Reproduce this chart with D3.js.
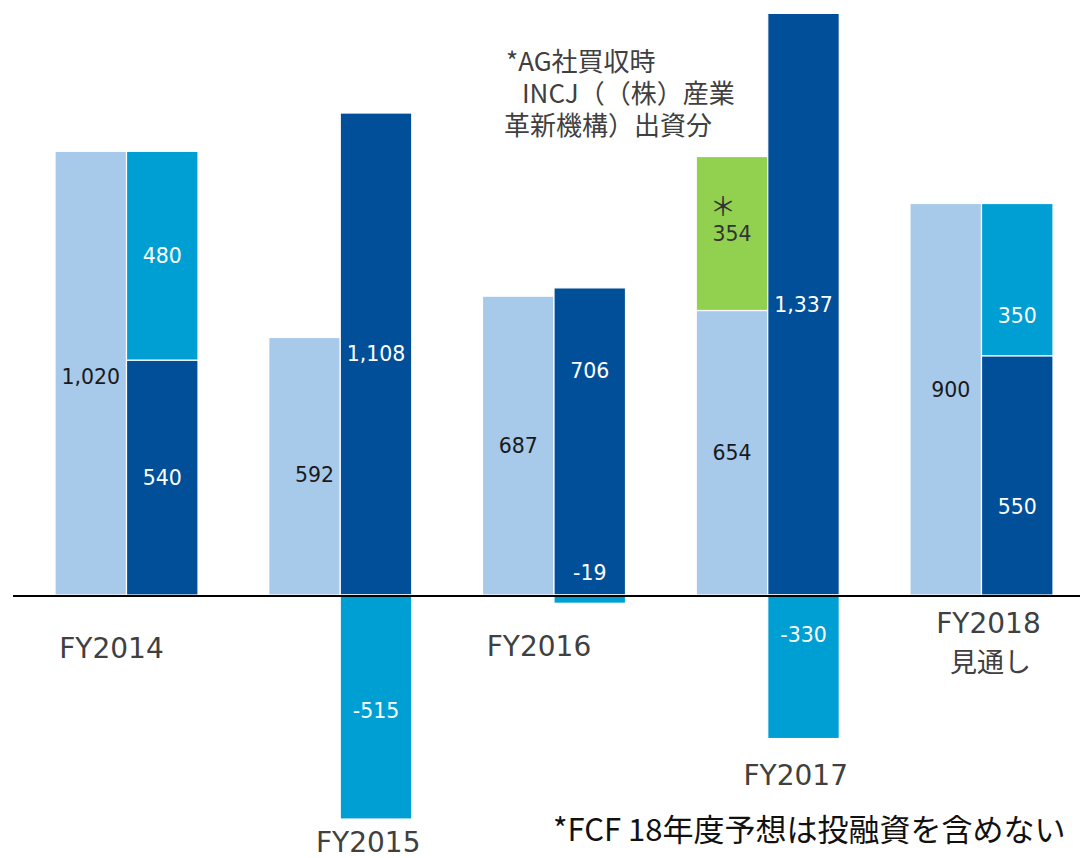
<!DOCTYPE html>
<html>
<head>
<meta charset="utf-8">
<script src="https://cdn.jsdelivr.net/npm/d3@7"></script>
<style>
  body { margin: 0; background: #fff; }
  svg { display: block; }
  .val { font-family: "DejaVu Sans", Verdana, sans-serif; font-size: 20.5px; }
  .cat { font-family: "DejaVu Sans", Verdana, sans-serif; font-size: 28px; fill: #404040; }
  .jp { font-family: "Noto Sans CJK JP", sans-serif; }
</style>
</head>
<body>
<svg width="1080" height="858"></svg>
<script>
var categories = ["FY2014", "FY2015", "FY2016", "FY2017", "FY2018"];
var opCF     = [1020, 592, 687, 654, 900];   // light bars
var incj     = [0, 0, 0, 354, 0];            // green, stacked on light
var fcf      = [540, 1108, 706, 1337, 550];  // dark bars
var invest   = [480, -515, -19, -330, 350];  // mid blue, on dark / below zero

var colors = { light: "#a7c9ea", green: "#92d050", dark: "#004f98", mid: "#009fd3" };

// small nudges for the value labels that are not in the segment middle
var labelNudge = {
  "light-1": { dy: 8, dx: 10 },
  "light-4": { dy: -10, dx: 5 },
  "dark-2": { dy: -71 },
  "mid-2": { dy: -27 },
  "mid-1": { dy: 4 },
  "mid-3": { dy: -32 },
  "dark-4": { dy: 31 },
  "mid-4": { dy: 36 },
  "light-0": { dy: 3 }
};

var svg = d3.select("svg");

var x = d3.scaleBand()
    .domain(categories)
    .range([55, 55 + 5 * 213.75]);

var inner = d3.scaleBand()
    .domain(["a", "b"])
    .range([0, 143]);

var y = d3.scaleLinear()
    .domain([0, 1337])
    .range([595, 595 - 1337 * 0.435]);

// build segments
var segs = [];
categories.forEach(function(c, i) {
    segs.push({key: "light-" + i, cat: c, col: "a", y0: 0, y1: opCF[i], v: opCF[i], fill: colors.light, txt: "#1a1a1a"});
    if (incj[i]) segs.push({key: "green-" + i, cat: c, col: "a", y0: opCF[i], y1: opCF[i] + incj[i], v: incj[i], fill: colors.green, txt: "#333", star: true});
    segs.push({key: "dark-" + i, cat: c, col: "b", y0: 0, y1: fcf[i], v: fcf[i], fill: colors.dark, txt: "#fff"});
    if (invest[i] >= 0) segs.push({key: "mid-" + i, cat: c, col: "b", y0: fcf[i], y1: fcf[i] + invest[i], v: invest[i], fill: colors.mid, txt: "#fff"});
    else segs.push({key: "mid-" + i, cat: c, col: "b", y0: invest[i], y1: 0, v: invest[i], fill: colors.mid, txt: "#fff"});
});

var g = svg.append("g");

g.selectAll("rect")
    .data(segs)
    .enter().append("rect")
    .attr("x", function(d) { return x(d.cat) + inner(d.col); })
    .attr("width", inner.bandwidth())
    .attr("y", function(d) { return y(d.y1); })
    .attr("height", function(d) { return y(d.y0) - y(d.y1); })
    .style("fill", function(d) { return d.fill; })
    .style("stroke", "#fff")
    .style("stroke-width", 1.2);

// zero line
svg.append("line")
    .attr("x1", 13).attr("x2", 1080)
    .attr("y1", y(0) + 1).attr("y2", y(0) + 1)
    .style("stroke", "#000")
    .style("stroke-width", 2);

// value labels (plain hyphen for negatives, like the slide)
var fmt = function(v) { return d3.format(",")(v).replace("\u2212", "-"); };
g.selectAll("text.val")
    .data(segs)
    .enter().append("text")
    .attr("class", "val")
    .attr("text-anchor", "middle")
    .attr("x", function(d) {
        var n = labelNudge[d.key] || {};
        return x(d.cat) + inner(d.col) + inner.bandwidth() / 2 + (n.dx || 0);
    })
    .attr("y", function(d) {
        var n = labelNudge[d.key] || {};
        return (y(d.y0) + y(d.y1)) / 2 + (n.dy || 0);
    })
    .attr("dy", "0.36em")
    .style("fill", function(d) { return d.txt; })
    .text(function(d) { return fmt(d.v); });

// asterisk over the INCJ segment
segs.filter(function(d) { return d.star; }).forEach(function(d) {
    g.append("text")
        .attr("class", "jp")
        .attr("text-anchor", "middle")
        .attr("x", x(d.cat) + inner(d.col) + inner.bandwidth() / 2 - 9)
        .attr("y", (y(d.y0) + y(d.y1)) / 2 - 18)
        .style("font-size", "26px")
        .style("fill", "#333")
        .text("＊");
});

// category labels (placed around each group, as in the original slide)
var catPos = [
    {dx: -15, dy: 63},
    {dx: 28, dy: 257},
    {dx: -15, dy: 61},
    {dx: 28, dy: 190},
    {dx: 7, dy: 38}
];
categories.forEach(function(c, i) {
    var cx = x(c) + inner.range()[1] / 2 + catPos[i].dx;
    svg.append("text")
        .attr("class", "cat")
        .attr("text-anchor", "middle")
        .attr("x", cx)
        .attr("y", y(0) + catPos[i].dy)
        .text(c);
});
svg.append("text")
    .attr("class", "jp")
    .attr("text-anchor", "middle")
    .attr("x", x("FY2018") + inner.range()[1] / 2 + 9)
    .attr("y", y(0) + 77)
    .style("font-size", "27px")
    .style("fill", "#404040")
    .text("見通し");

// INCJ note; each line is split in pieces so the double bracket keeps full width
var note = [["*AG社買収時"], ["INCJ（", "（株）産業"], ["革新機構）出資分"]];
var noteX = [506, 522, 504];
note.forEach(function(parts, i) {
    var cx = noteX[i];
    parts.forEach(function(p) {
        var t = svg.append("text")
            .attr("class", "jp")
            .attr("x", cx)
            .attr("y", 71 + i * 32)
            .style("font-size", "26px")
            .style("fill", "#404040")
            .text(p);
        cx += t.node().getComputedTextLength();
    });
});

// footnote
svg.append("text")
    .attr("class", "jp")
    .attr("x", 553)
    .attr("y", 841)
    .style("font-size", "31px")
    .style("fill", "#111")
    .text("*FCF 18年度予想は投融資を含めない");
</script>
</body>
</html>
